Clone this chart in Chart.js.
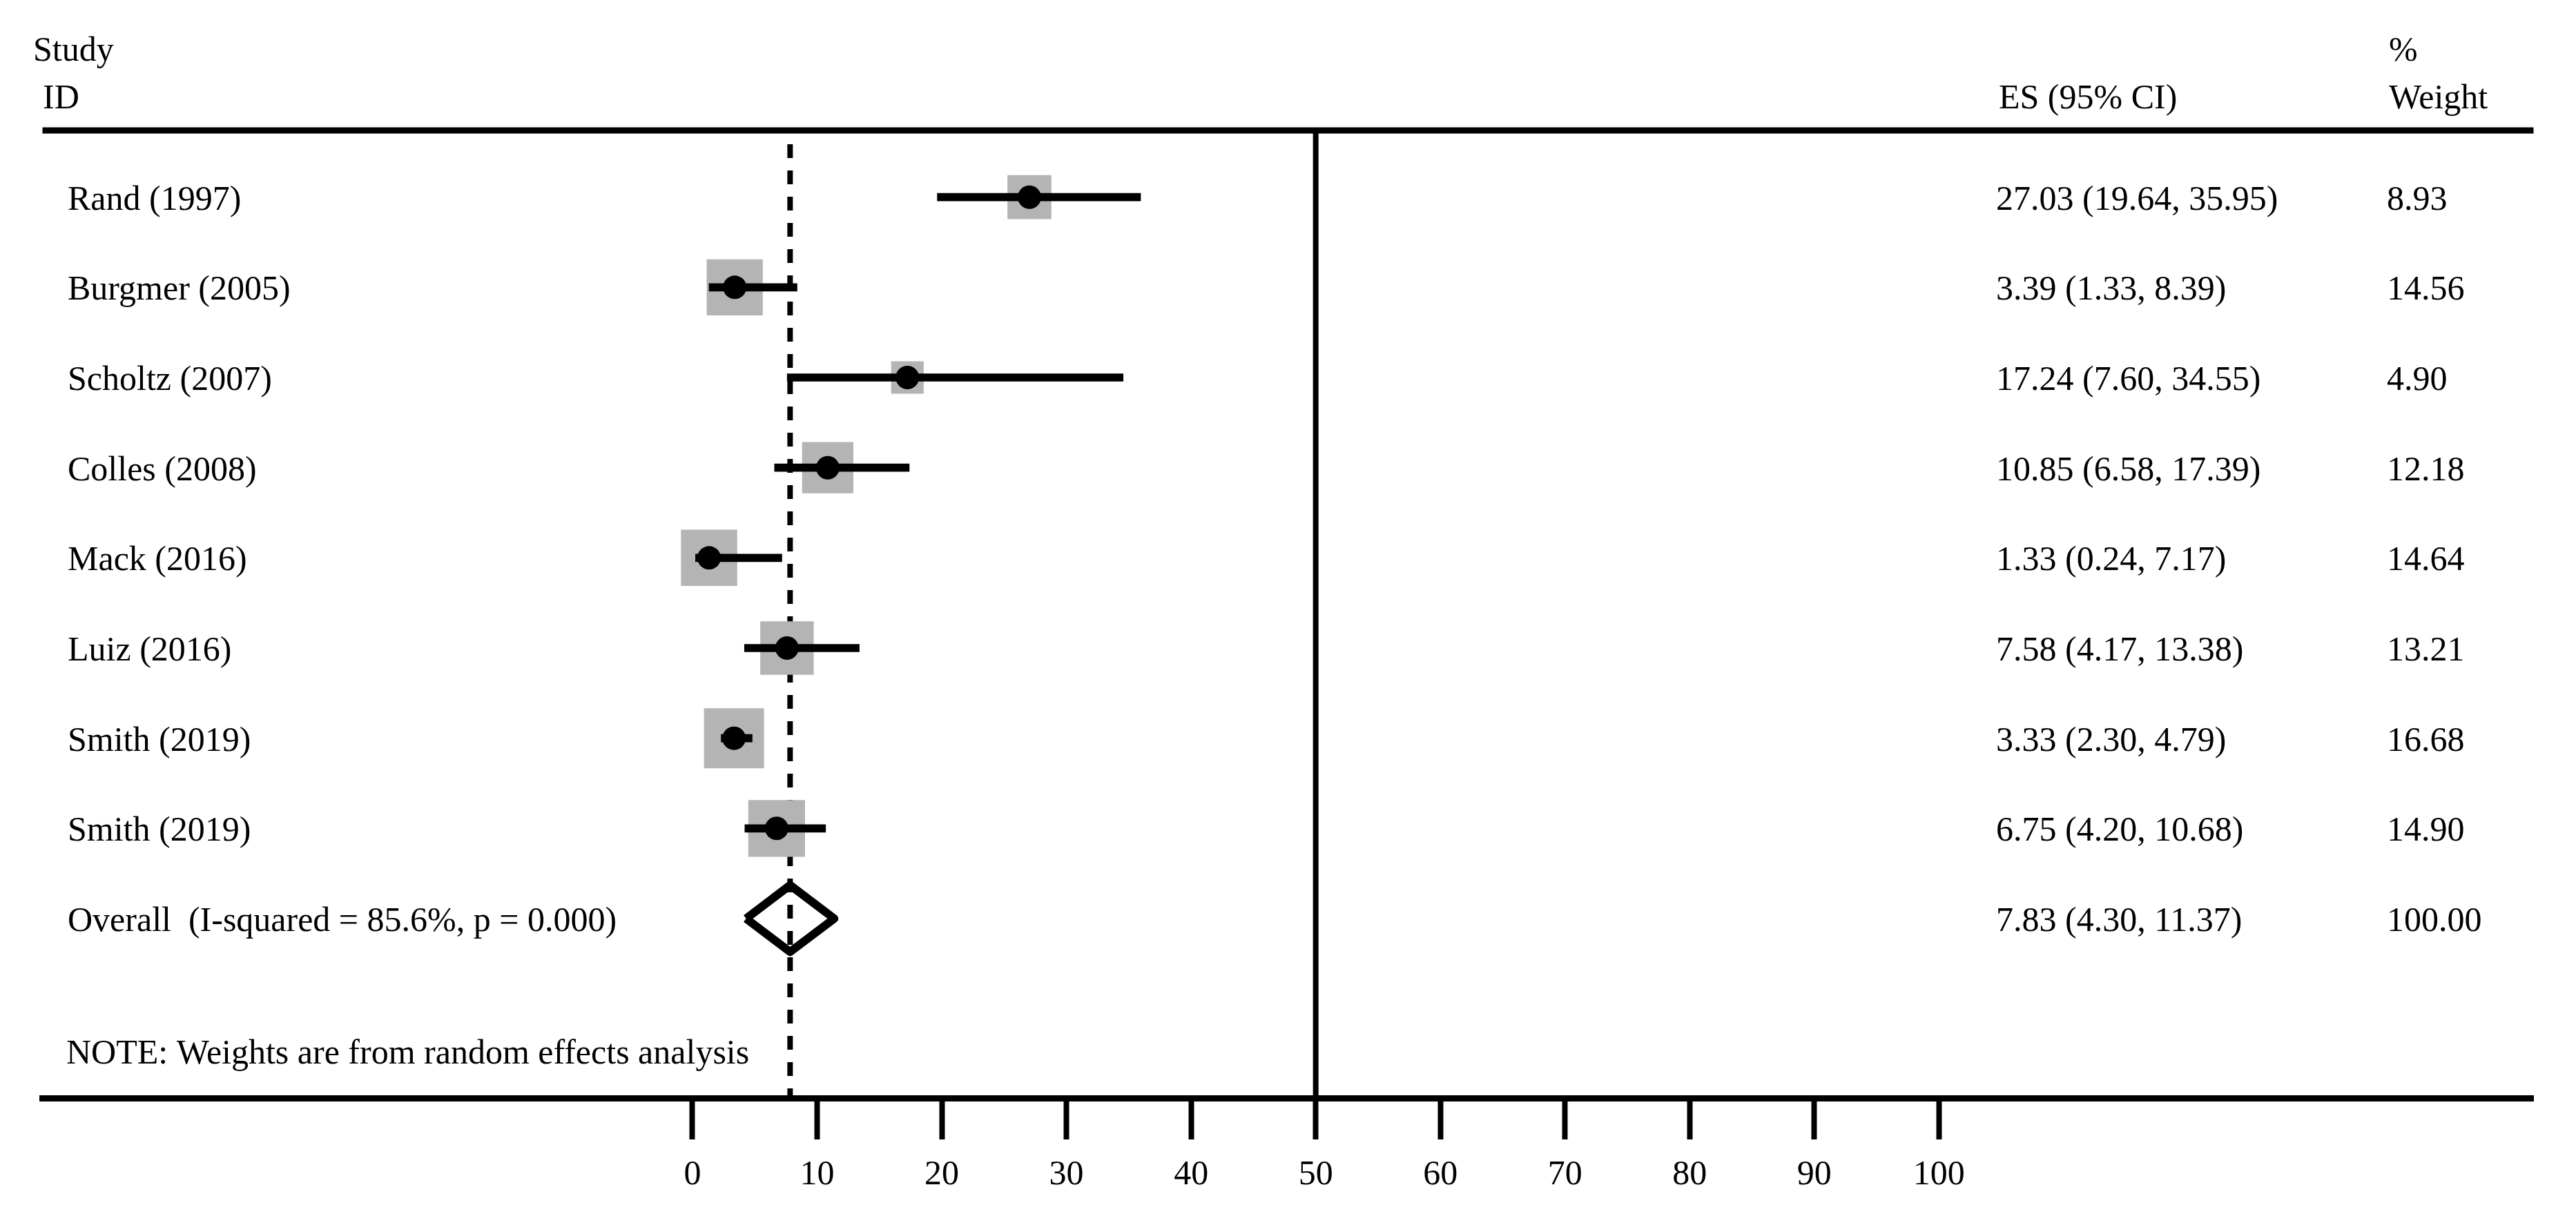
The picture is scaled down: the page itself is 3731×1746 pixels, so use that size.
<!DOCTYPE html>
<html>
<head>
<meta charset="utf-8">
<script src="https://cdn.jsdelivr.net/npm/chart.js@4.4.0/dist/chart.umd.min.js"></script>
<style>
  html, body { margin: 0; padding: 0; background: #fff; }
  .chart-container { position: relative; width: 3731px; height: 1746px; }
</style>
</head>
<body>
<div class="chart-container"><canvas id="forestChart"></canvas></div>
<script>
const studies = ['Rand (1997)', 'Burgmer (2005)', 'Scholtz (2007)', 'Colles (2008)', 'Mack (2016)', 'Luiz (2016)', 'Smith (2019)', 'Smith (2019)'];
const es = [27.03, 3.39, 17.24, 10.85, 1.33, 7.58, 3.33, 6.75];
const ciLow = [19.64, 1.33, 7.60, 6.58, 0.24, 4.17, 2.30, 4.20];
const ciHigh = [35.95, 8.39, 34.55, 17.39, 7.17, 13.38, 4.79, 10.68];
const weights = [8.93, 14.56, 4.90, 12.18, 14.64, 13.21, 16.68, 14.90];

const overallLabel = 'Overall  (I-squared = 85.6%, p = 0.000)';
const overallEs = 7.83;
const overallLow = 4.30;
const overallHigh = 11.37;
const overallWeight = 100.00;

const refLine = 50;
const xTicks = [0, 10, 20, 30, 40, 50, 60, 70, 80, 90, 100];
const note = 'NOTE: Weights are from random effects analysis';

// value ranges that map onto the plot area
const X_MIN = -52.15, X_MAX = 147.7;
const Y_MIN = -0.74, Y_MAX = 9.99;
const overallRow = studies.length;
const noteRow = studies.length + 1.5;
const SQUARE_SCALE = 21.3;   // px of square side per sqrt(weight)
const DIAMOND_HALF = 0.37;   // rows

const FONT = '50px "Liberation Serif", "Times New Roman", serif';

const ciData = studies.map((s, i) => ({ x: [ciLow[i], ciHigh[i]], y: i }));
const pointData = studies.map((s, i) => ({ x: es[i], y: i }));
const diamondData = [
  { x: overallLow, y: overallRow },
  { x: overallEs, y: overallRow - DIAMOND_HALF },
  { x: overallHigh, y: overallRow },
  { x: overallEs, y: overallRow + DIAMOND_HALF },
  { x: overallLow, y: overallRow }
];

const forestText = {
  id: 'forestText',
  afterDraw(chart) {
    const { ctx, chartArea, scales: { y } } = chart;
    ctx.save();
    ctx.font = FONT;
    ctx.fillStyle = '#000';
    ctx.textBaseline = 'alphabetic';
    ctx.textAlign = 'left';

    ctx.fillText('Study', 48, 88);
    ctx.fillText('ID', 62, 157);
    ctx.fillText('ES (95% CI)', 2895, 157);
    ctx.fillText('%', 3460, 88);
    ctx.fillText('Weight', 3460, 157);

    studies.forEach((name, i) => {
      const py = y.getPixelForValue(i) + 18;
      ctx.fillText(name, 98, py);
      ctx.fillText(es[i].toFixed(2) + ' (' + ciLow[i].toFixed(2) + ', ' + ciHigh[i].toFixed(2) + ')', 2891, py);
      ctx.fillText(weights[i].toFixed(2), 3457, py);
    });

    const oy = y.getPixelForValue(overallRow) + 18;
    ctx.fillText(overallLabel, 98, oy);
    ctx.fillText(overallEs.toFixed(2) + ' (' + overallLow.toFixed(2) + ', ' + overallHigh.toFixed(2) + ')', 2891, oy);
    ctx.fillText(overallWeight.toFixed(2), 3457, oy);

    ctx.fillText(note, 96, y.getPixelForValue(noteRow) + 14);

    // top rule
    ctx.strokeStyle = '#000';
    ctx.lineWidth = 9;
    ctx.beginPath();
    ctx.moveTo(chartArea.left, chartArea.top);
    ctx.lineTo(chartArea.right, chartArea.top);
    ctx.stroke();
    ctx.restore();
  }
};

new Chart(document.getElementById('forestChart'), {
  type: 'scatter',
  data: {
    datasets: [
      {
        type: 'scatter',
        data: pointData,
        pointStyle: 'circle',
        pointRadius: 17,
        backgroundColor: '#000',
        borderWidth: 0,
        order: 1
      },
      {
        type: 'line',
        data: diamondData,
        borderColor: '#000',
        borderWidth: 12,
        borderJoinStyle: 'round',
        pointRadius: 0,
        fill: false,
        tension: 0,
        order: 2
      },
      {
        type: 'bar',
        indexAxis: 'y',
        data: ciData,
        backgroundColor: '#000',
        borderWidth: 0,
        barThickness: 11,
        borderSkipped: false,
        order: 3
      },
      {
        type: 'scatter',
        data: pointData,
        pointStyle: 'rect',
        pointRadius: ctx => SQUARE_SCALE * Math.sqrt(weights[ctx.dataIndex]) / Math.SQRT2,
        backgroundColor: '#b4b4b4',
        borderWidth: 0,
        order: 4
      },
      {
        type: 'line',
        data: [{ x: overallEs, y: Y_MIN }, { x: overallEs, y: Y_MAX }],
        borderColor: '#000',
        borderWidth: 8,
        borderDash: [20, 18],
        borderDashOffset: -20,
        pointRadius: 0,
        order: 5
      },
      {
        type: 'line',
        data: [{ x: refLine, y: Y_MIN }, { x: refLine, y: Y_MAX }],
        borderColor: '#000',
        borderWidth: 8,
        pointRadius: 0,
        order: 5
      }
    ]
  },
  options: {
    responsive: true,
    maintainAspectRatio: false,
    animation: false,
    events: [],
    layout: { padding: { top: 189, left: 40, right: 24, bottom: 0 } },
    plugins: {
      legend: { display: false },
      tooltip: { enabled: false }
    },
    scales: {
      x: {
        type: 'linear',
        position: 'bottom',
        min: X_MIN,
        max: X_MAX,
        afterBuildTicks: scale => { scale.ticks = xTicks.map(v => ({ value: v })); },
        afterFit: scale => { scale.height = 155; },
        grid: {
          drawOnChartArea: false,
          drawTicks: true,
          tickLength: 60,
          tickWidth: 8,
          tickColor: '#000'
        },
        border: { display: true, color: '#000', width: 9 },
        ticks: {
          color: '#000',
          font: { family: '"Liberation Serif", "Times New Roman", serif', size: 50 },
          padding: 22,
          maxRotation: 0,
          autoSkip: false,
          callback: v => String(v)
        }
      },
      y: {
        type: 'linear',
        display: false,
        reverse: true,
        min: Y_MIN,
        max: Y_MAX,
        offset: false,
        grid: { offset: false }
      }
    }
  },
  plugins: [forestText]
});
</script>
</body>
</html>
